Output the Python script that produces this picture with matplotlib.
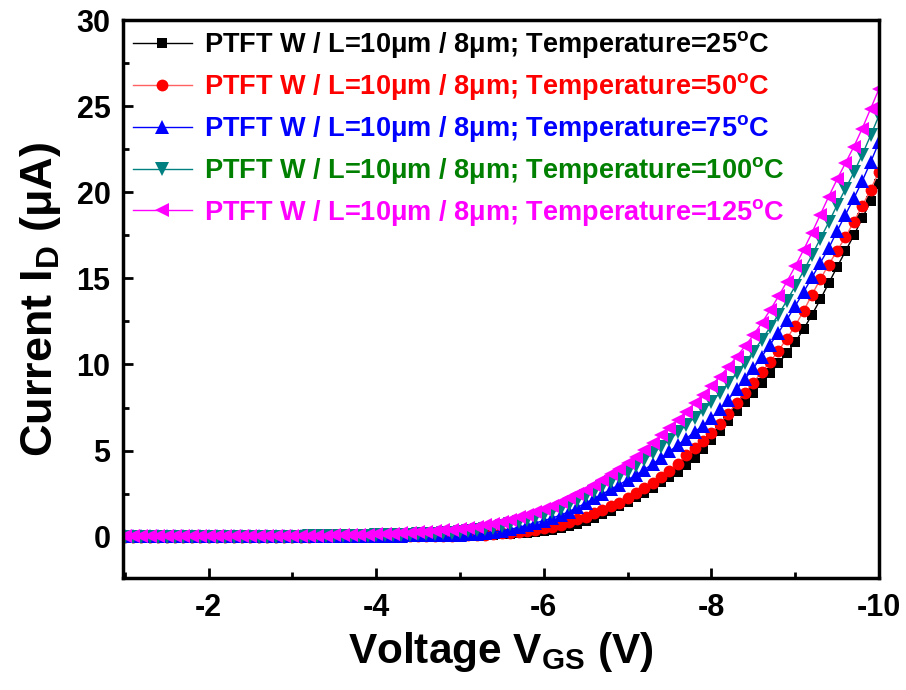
import matplotlib
matplotlib.use("Agg")
import matplotlib.pyplot as plt
from matplotlib.ticker import MultipleLocator

plt.rcParams['font.family'] = ['Liberation Sans', 'DejaVu Sans']
plt.rcParams['font.weight'] = 'bold'
plt.rcParams['axes.unicode_minus'] = False
plt.rcParams['mathtext.fontset'] = 'custom'
plt.rcParams['mathtext.rm'] = 'Liberation Sans'
plt.rcParams['mathtext.bf'] = 'Liberation Sans:bold'
plt.rcParams['mathtext.it'] = 'Liberation Sans:italic'

vgs = [-1.0, -1.1, -1.2, -1.3, -1.4, -1.5, -1.6, -1.7, -1.8, -1.9,
       -2.0, -2.1, -2.2, -2.3, -2.4, -2.5, -2.6, -2.7, -2.8, -2.9,
       -3.0, -3.1, -3.2, -3.3, -3.4, -3.5, -3.6, -3.7, -3.8, -3.9,
       -4.0, -4.1, -4.2, -4.3, -4.4, -4.5, -4.6, -4.7, -4.8, -4.9,
       -5.0, -5.1, -5.2, -5.3, -5.4, -5.5, -5.6, -5.7, -5.8, -5.9,
       -6.0, -6.1, -6.2, -6.3, -6.4, -6.5, -6.6, -6.7, -6.8, -6.9,
       -7.0, -7.1, -7.2, -7.3, -7.4, -7.5, -7.6, -7.7, -7.8, -7.9,
       -8.0, -8.1, -8.2, -8.3, -8.4, -8.5, -8.6, -8.7, -8.8, -8.9,
       -9.0, -9.1, -9.2, -9.3, -9.4, -9.5, -9.6, -9.7, -9.8, -9.9,
       -10.0]

id_25c = [0.00, 0.00, 0.00, 0.00, 0.00, 0.00, 0.00, 0.00, 0.00, 0.00,
          0.00, 0.00, 0.00, 0.00, 0.00, 0.00, 0.00, 0.00, 0.00, 0.00,
          0.00, 0.00, 0.01, 0.01, 0.01, 0.01, 0.01, 0.02, 0.02, 0.02,
          0.02, 0.02, 0.03, 0.03, 0.03, 0.04, 0.04, 0.04, 0.05, 0.05,
          0.05, 0.06, 0.07, 0.09, 0.11, 0.14, 0.17, 0.20, 0.24, 0.29,
          0.35, 0.41, 0.49, 0.60, 0.75, 0.92, 1.10, 1.30, 1.52, 1.76,
          2.02, 2.28, 2.56, 2.85, 3.15, 3.46, 3.78, 4.15, 4.58, 5.08,
          5.60, 6.15, 6.72, 7.28, 7.82, 8.36, 8.92, 9.48, 10.06, 10.66,
          11.30, 12.05, 12.88, 13.78, 14.72, 15.66, 16.58, 17.50, 18.48, 19.48,
          20.50]

id_50c = [0.01, 0.01, 0.01, 0.01, 0.01, 0.01, 0.01, 0.01, 0.01, 0.01,
          0.01, 0.01, 0.01, 0.01, 0.01, 0.01, 0.01, 0.01, 0.01, 0.01,
          0.01, 0.01, 0.01, 0.02, 0.02, 0.02, 0.02, 0.03, 0.03, 0.03,
          0.03, 0.03, 0.04, 0.04, 0.04, 0.05, 0.05, 0.05, 0.06, 0.06,
          0.07, 0.08, 0.10, 0.12, 0.15, 0.19, 0.23, 0.28, 0.34, 0.41,
          0.48, 0.56, 0.68, 0.83, 1.00, 1.17, 1.35, 1.55, 1.76, 1.98,
          2.24, 2.52, 2.82, 3.12, 3.44, 3.80, 4.24, 4.72, 5.15, 5.55,
          6.00, 6.55, 7.15, 7.75, 8.35, 8.95, 9.55, 10.15, 10.80, 11.50,
          12.25, 13.10, 14.05, 14.95, 15.80, 16.60, 17.40, 18.30, 19.20, 20.15,
          21.20]

id_75c = [0.02, 0.02, 0.02, 0.02, 0.02, 0.02, 0.02, 0.02, 0.02, 0.02,
          0.02, 0.02, 0.02, 0.02, 0.02, 0.02, 0.02, 0.02, 0.02, 0.02,
          0.02, 0.02, 0.03, 0.03, 0.03, 0.03, 0.04, 0.04, 0.04, 0.05,
          0.05, 0.05, 0.06, 0.06, 0.07, 0.07, 0.08, 0.09, 0.10, 0.11,
          0.12, 0.15, 0.18, 0.22, 0.27, 0.34, 0.43, 0.54, 0.67, 0.80,
          0.93, 1.08, 1.25, 1.45, 1.70, 1.95, 2.22, 2.48, 2.75, 3.02,
          3.30, 3.58, 3.90, 4.22, 4.58, 4.95, 5.33, 5.70, 6.08, 6.45,
          6.88, 7.40, 7.95, 8.55, 9.15, 9.78, 10.45, 11.15, 11.85, 12.60,
          13.40, 14.20, 15.05, 15.90, 16.75, 17.75, 18.70, 19.65, 20.65, 21.75,
          22.90]

id_100c = [0.00, 0.00, 0.00, 0.00, 0.00, 0.00, 0.00, 0.00, 0.00, 0.00,
           0.00, 0.00, 0.00, 0.00, 0.00, 0.00, 0.00, 0.00, 0.00, 0.00,
           0.01, 0.01, 0.02, 0.02, 0.03, 0.03, 0.04, 0.04, 0.05, 0.06,
           0.07, 0.08, 0.09, 0.10, 0.12, 0.14, 0.16, 0.18, 0.20, 0.23,
           0.26, 0.32, 0.37, 0.44, 0.51, 0.60, 0.71, 0.83, 0.97, 1.11,
           1.27, 1.44, 1.63, 1.84, 2.08, 2.34, 2.62, 2.90, 3.19, 3.48,
           3.78, 4.12, 4.48, 4.84, 5.23, 5.64, 6.06, 6.48, 6.92, 7.35,
           7.82, 8.35, 8.90, 9.50, 10.10, 10.74, 11.43, 12.15, 12.90, 13.70,
           14.55, 15.43, 16.35, 17.30, 18.25, 19.25, 20.20, 21.15, 22.18, 23.30,
           24.45]

id_125c = [0.02, 0.02, 0.02, 0.02, 0.02, 0.02, 0.02, 0.02, 0.02, 0.02,
           0.02, 0.02, 0.02, 0.02, 0.02, 0.02, 0.02, 0.02, 0.02, 0.02,
           0.03, 0.03, 0.04, 0.05, 0.06, 0.07, 0.08, 0.09, 0.10, 0.12,
           0.14, 0.16, 0.18, 0.20, 0.23, 0.26, 0.29, 0.32, 0.36, 0.40,
           0.44, 0.50, 0.57, 0.65, 0.75, 0.86, 0.98, 1.12, 1.26, 1.42,
           1.60, 1.80, 2.00, 2.22, 2.46, 2.73, 3.02, 3.32, 3.62, 3.94,
           4.26, 4.65, 5.05, 5.45, 5.88, 6.32, 6.78, 7.25, 7.75, 8.25,
           8.75, 9.30, 9.85, 10.45, 11.05, 11.70, 12.40, 13.15, 13.95, 14.80,
           15.70, 16.65, 17.65, 18.70, 19.75, 20.75, 21.70, 22.65, 23.70, 24.85,
           26.00]

temperatures = ['25', '50', '75', '100', '125']
series = [id_25c, id_50c, id_75c, id_100c, id_125c]
markers = ['s', 'o', '^', 'v', '<']
msizes = [7.5, 8.5, 10.5, 10.5, 10.5]
marker_colors = ['#000000', '#FF0000', '#0000FF', '#008080', '#FF00FF']
line_colors = ['#000000', '#FF6060', '#0000FF', '#008080', '#FF00FF']
text_colors = ['#000000', '#FF0000', '#0000FF', '#008000', '#FF00FF']

fig = plt.figure(figsize=(9.06, 6.90), dpi=100)
ax = fig.add_axes([0.1358, 0.1623, 0.8344, 0.8087])

for t, y, m, ms, mc, lc in zip(temperatures, series, markers, msizes, marker_colors, line_colors):
    ax.plot(vgs, y, color=lc, lw=1.0, marker=m, markersize=ms,
            markerfacecolor=mc, markeredgecolor=mc, markeredgewidth=0,
            label='PTFT W / L=10\u03bcm / 8\u03bcm; Temperature=' + t + r'$^{\rm o}$C')

ax.set_xlim(-0.98, -10.0)
ax.set_ylim(-2.4, 30)
ax.xaxis.set_major_locator(MultipleLocator(2))
ax.xaxis.set_minor_locator(MultipleLocator(1))
ax.yaxis.set_major_locator(MultipleLocator(5))
ax.yaxis.set_minor_locator(MultipleLocator(2.5))
ax.set_xticks([-2, -4, -6, -8, -10])

for s in ax.spines.values():
    s.set_linewidth(2.5)
ax.tick_params(which='major', direction='in', length=7.5, width=2, labelsize=22,
               top=False, right=False)
ax.tick_params(which='minor', direction='in', length=4, width=2, top=False, right=False)
ax.tick_params(axis='x', which='major', pad=11)
ax.tick_params(axis='y', which='major', pad=9)
for lab in ax.get_xticklabels() + ax.get_yticklabels():
    lab.set_fontweight('bold')

ax.set_xlabel('Voltage V$_{\\rm GS}$ (V)', fontsize=30.5, fontweight='bold', labelpad=5)
ax.set_ylabel('Current I$_{\\rm D}$ (\u03bcA)', fontsize=32.5,
              fontweight='bold', labelpad=10)

leg = ax.legend(loc='upper left', frameon=False, fontsize=19.5, handlelength=2.2,
                handletextpad=0.45, labelspacing=0.40, borderaxespad=0.15,
                borderpad=0.2, markerscale=1.0)
for txt, c in zip(leg.get_texts(), text_colors):
    txt.set_color(c)
    txt.set_fontweight('bold')

fig.savefig('out.png', dpi=100)
